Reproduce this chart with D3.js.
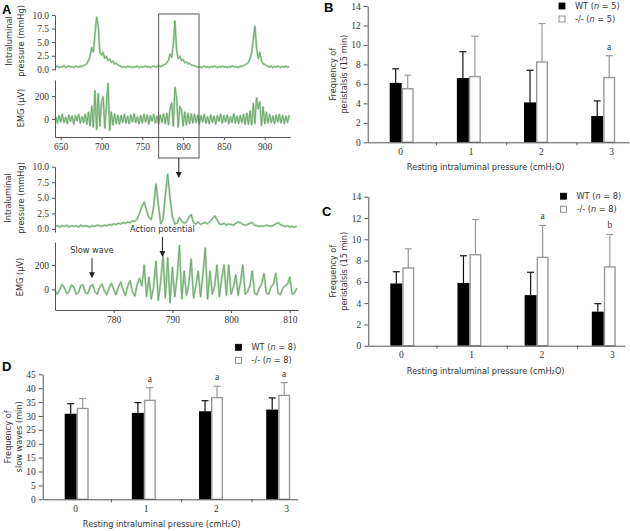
<!DOCTYPE html>
<html lang="en">
<head>
<meta charset="UTF-8">
<title>Peristalsis and slow waves</title>
<script src="https://cdn.jsdelivr.net/npm/d3@7/dist/d3.min.js"></script>
<style>
  body { margin: 0; background: #fff; }
  svg text { fill: #333; }
  .num { font-family: "Liberation Serif", serif; font-size: 9.5px; }
  .lbl { font-family: "DejaVu Sans", sans-serif; font-size: 8.2px; }
  .panel { font-family: "Liberation Sans", Arial, sans-serif; font-weight: bold; font-size: 13px; }
  .panel { fill: #000; }
</style>
</head>
<body>
<svg id="fig" width="630" height="531"></svg>
<script>
// ---- panel A traces (sampled from the figure) ----
const overviewStart = 644, overviewStep = 2;      // seconds
const overviewPressure = [
  0.4,0.6,0.3,0.5,0.4,0.7,0.3,0.5,0.6,0.4,0.5,0.3,0.6,0.5,0.4,0.6,0.5,0.7,
  0.8,1.0,1.6,2.4,4.0,3.2,6.5,9.6,8.0,3.0,2.6,3.1,2.0,2.4,1.6,1.9,1.3,1.5,1.0,1.1,0.8,0.7,0.5,
  0.4,0.5,0.3,0.6,0.4,0.5,0.3,0.5,0.4,0.6,0.3,0.5,0.4,0.5,0.6,0.4,0.5,0.3,0.5,0.6,0.4,0.5,0.7,0.5,0.6,0.8,0.9,
  1.2,1.6,2.8,2.2,4.5,8.9,3.5,2.0,2.4,1.6,1.8,1.2,1.4,1.0,1.1,0.8,0.7,0.6,0.5,
  0.4,0.5,0.3,0.4,0.6,0.4,0.5,0.3,0.5,0.4,0.6,0.5,0.3,0.5,0.4,0.6,0.4,0.5,0.3,0.5,0.4,0.6,0.5,0.4,0.5,0.3,0.6,0.5,0.7,0.8,
  1.0,1.3,2.0,3.0,5.5,7.9,4.0,2.0,3.1,1.6,1.0,0.9,0.7,
  0.5,0.4,0.6,0.3,0.5,0.4,0.6,0.5,0.3,0.5,0.4,0.6,0.4,0.5
];
const overviewEmg = [
  20,-35,30,-25,40,-30,15,-40,35,-20,25,-45,30,-15,40,-35,20,-30,
  40,-45,60,-60,110,-70,245,-90,220,-60,150,195,-80,120,310,-100,60,-50,45,-40,35,-45,30,
  -30,40,-35,25,-40,35,-25,45,-30,20,-40,30,-35,40,-25,35,-45,30,-20,40,-35,25,-40,35,-30,45,-40,
  50,-50,90,140,-60,275,190,-70,110,80,-60,60,-50,50,-40,45,-35,40,-30,
  35,-40,30,-25,40,-35,20,-40,35,-30,25,-45,30,-20,40,-35,30,-25,35,-40,20,-30,45,-35,25,-40,30,-30,40,-45,
  50,-45,70,-50,135,-40,185,90,150,-55,105,-40,60,
  -35,40,-30,25,-40,35,-25,40,-35,30,-40,25,-30,35
];
const zoomStart = 770, zoomStep = 0.4;
const zoomPressure = [
  0.4,0.5,0.3,0.5,0.4,0.6,0.3,0.5,0.4,0.5,0.3,0.6,0.4,0.5,0.4,0.3,0.5,0.4,0.6,0.5,0.4,0.6,0.5,0.7,0.6,0.8,
  0.7,0.9,0.8,1.0,0.9,1.1,1.0,1.3,1.2,1.6,2.5,3.6,4.3,3.0,1.8,1.5,3.5,7.2,4.0,0.8,1.5,5.5,8.8,5.0,2.0,0.8,
  0.9,1.8,1.2,0.9,1.1,1.8,2.3,1.0,0.8,1.1,0.7,0.9,1.0,0.8,1.2,1.6,2.1,1.5,0.8,0.7,0.9,0.6,0.8,0.7,0.6,0.9,
  1.1,1.0,0.7,0.6,0.7,0.9,1.0,0.6,0.5,0.4,0.5,0.4,0.6,0.5,0.4,0.6,0.8,1.0,0.7,0.5,0.4,0.5,0.3,0.4,0.3,0.4
];
const zoomEmg = [
  -10,-40,-5,40,15,-35,-20,35,20,-40,-25,30,35,-30,-35,25,40,-20,-40,15,45,-10,-45,10,50,0,
  -45,20,60,-5,-50,30,70,-20,-55,40,90,30,200,-60,100,-80,20,230,-90,60,280,-70,260,-110,180,-60,
  100,360,-80,150,-50,40,250,-70,30,150,-60,120,340,-80,150,-40,30,200,-60,90,200,-50,200,-40,20,120,
  -50,60,200,-40,-20,30,150,-30,-45,10,40,130,-30,-40,20,40,130,-30,-45,10,30,40,100,-40,-30,10
];
const pressureTicks = [0, 2.5, 5, 7.5, 10];
const emgTicks = [0, 200];
const overviewTicks = [650, 700, 750, 800, 850, 900];
const zoomTicks = [780, 790, 800, 810];
const zoomWindow = [770, 819.5];
const notes = [
  { text: "Slow wave", t: 776.3, v: 100 },
  { text: "Action potential", t: 788.3, v: 275 }
];

// ---- panels B-D ----
const categories = [0, 1, 2, 3];
const peristB_wt = [6.1, 6.6, 4.1, 2.7];
const peristB_wtErr = [1.45, 2.7, 3.3, 1.55];
const peristB_ko = [5.5, 6.75, 8.25, 6.65];
const peristB_koErr = [1.4, 4.15, 3.95, 2.25];
const peristB_sig = ["", "", "", "a"];
const peristC_wt = [5.85, 5.9, 4.75, 3.2];
const peristC_wtErr = [1.1, 2.55, 2.15, 0.75];
const peristC_ko = [7.3, 8.55, 8.3, 7.4];
const peristC_koErr = [1.8, 3.3, 3.0, 3.05];
const peristC_sig = ["", "", "a", "b"];
const slowD_wt = [30.8, 31.1, 31.7, 32.3];
const slowD_wtErr = [3.6, 3.7, 3.8, 4.2];
const slowD_ko = [32.7, 35.6, 36.6, 37.4];
const slowD_koErr = [3.6, 4.6, 4.1, 4.6];
const slowD_sig = ["", "a", "a", "a"];
const peristTicks = [0, 2, 4, 6, 8, 10, 12, 14];
const slowTicks = [0, 5, 10, 15, 20, 25, 30, 35, 40, 45];

const svg = d3.select("#fig");
const axisColor = "#555";

svg.append("defs").append("marker")
  .attr("id", "arrow").attr("viewBox", "0 0 6 6")
  .attr("refX", 5).attr("refY", 3)
  .attr("markerWidth", 6).attr("markerHeight", 6)
  .attr("orient", "auto")
  .append("path").attr("d", "M0,0 L6,3 L0,6 z").attr("fill", "#222");

function styleAxis(g) {
  g.selectAll("path, line").attr("stroke", axisColor);
  g.selectAll("text").attr("class", "num").attr("fill", "#333");
  g.attr("font-family", null).attr("font-size", null);
}

function vLabel(lines, xs, cy) {
  lines.forEach((t, i) => {
    svg.append("text").attr("class", "lbl")
      .attr("text-anchor", "middle")
      .attr("transform", `translate(${xs[i]},${cy}) rotate(-90)`)
      .text(t);
  });
}

// light fuzzy band with a darker core, like the scanned recording
function trace(xs, ys, start, step, data) {
  const line = d3.line()
    .x((d, i) => xs(start + i * step))
    .y(d => ys(d));
  svg.append("path").datum(data)
    .attr("d", line).attr("fill", "none")
    .attr("stroke", "#b5d8b5").attr("stroke-width", 2.2)
    .attr("stroke-linejoin", "round");
  svg.append("path").datum(data)
    .attr("d", line).attr("fill", "none")
    .attr("stroke", "#5f9f5f").attr("stroke-width", 0.8)
    .attr("stroke-linejoin", "round");
}

// ---- A: overview ----
const xTop = d3.scaleLinear().domain([643, 931]).range([55, 290]);
const yPresTop = d3.scaleLinear().domain([-0.13, 10]).range([70, 15]);
const yEmgTop = d3.scaleLinear().domain([-156, 339]).range([137, 80]);

trace(xTop, yPresTop, overviewStart, overviewStep, overviewPressure);
trace(xTop, yEmgTop, overviewStart, overviewStep, overviewEmg);

svg.append("g").attr("transform", "translate(55,0)")
  .call(d3.axisLeft(yPresTop).tickValues(pressureTicks).tickFormat(d3.format(".1f")).tickSize(3).tickSizeOuter(0))
  .call(styleAxis);
svg.append("g").attr("transform", "translate(55,0)")
  .call(d3.axisLeft(yEmgTop).tickValues(emgTicks).tickSize(3).tickSizeOuter(0))
  .call(styleAxis);
svg.append("g").attr("transform", "translate(0,137)")
  .call(d3.axisBottom(xTop).tickValues(overviewTicks).tickSize(3).tickSizeOuter(0))
  .call(styleAxis);

vLabel(["Intraluminal", "pressure (mmHg)"], [12, 24], 41);
vLabel(["EMG (\u03bcV)"], [24], 108);

// zoom window box and arrow
const bx0 = xTop(zoomWindow[0]), bx1 = xTop(zoomWindow[1]);
svg.append("rect").attr("x", bx0).attr("y", 14)
  .attr("width", bx1 - bx0).attr("height", 144)
  .attr("fill", "none").attr("stroke", "#555").attr("stroke-width", 1);
svg.append("line")
  .attr("x1", (bx0 + bx1) / 2).attr("x2", (bx0 + bx1) / 2)
  .attr("y1", 158).attr("y2", 177)
  .attr("stroke", "#222").attr("marker-end", "url(#arrow)");

// ---- A: zoomed ----
const xBot = d3.scaleLinear().domain([770, 811.4]).range([55, 298]);
const yPresBot = d3.scaleLinear().domain([-0.5, 10]).range([232, 166.7]);
const yEmgBot = d3.scaleLinear().domain([-170, 389]).range([310, 242]);

trace(xBot, yPresBot, zoomStart, zoomStep, zoomPressure);
trace(xBot, yEmgBot, zoomStart, zoomStep, zoomEmg);

svg.append("g").attr("transform", "translate(55,0)")
  .call(d3.axisLeft(yPresBot).tickValues(pressureTicks).tickFormat(d3.format(".1f")).tickSize(3).tickSizeOuter(0))
  .call(styleAxis);
svg.append("g").attr("transform", "translate(55,0)")
  .call(d3.axisLeft(yEmgBot).tickValues(emgTicks).tickSize(3).tickSizeOuter(0))
  .call(styleAxis);
svg.append("g").attr("transform", "translate(0,310)")
  .call(d3.axisBottom(xBot).tickValues(zoomTicks).tickSize(3).tickSizeOuter(0))
  .call(styleAxis);

vLabel(["Intraluminal", "pressure (mmHg)"], [11, 24], 198);
vLabel(["EMG (\u03bcV)"], [23], 277);

notes.forEach(n => {
  const x = xBot(n.t), y = yEmgBot(n.v);
  svg.append("text").attr("class", "lbl").attr("text-anchor", "middle")
    .attr("x", x).attr("y", y - 24).text(n.text);
  svg.append("line").attr("x1", x).attr("x2", x)
    .attr("y1", y - 19).attr("y2", y)
    .attr("stroke", "#222").attr("marker-end", "url(#arrow)");
});

svg.append("text").attr("class", "panel").attr("x", 2).attr("y", 14).text("A");

// ---- bar panels ----
function barPanel(cfg) {
  const y = d3.scaleLinear().domain([0, cfg.yMax]).range([cfg.yBase, cfg.yTop]);
  const xl = d3.scaleLinear().domain([0, 3]).range([cfg.x0 + 33, cfg.x0 + 244]);
  const xb = d3.scaleLinear().domain([0, 3]).range([cfg.x0 + 34, cfg.x0 + 235.5]);
  const xAxisScale = xl.copy().domain([xl.invert(cfg.x0), xl.invert(cfg.xEnd)]).range([cfg.x0, cfg.xEnd]);
  const bw = 12;
  const g = svg.append("g");

  // bars
  g.selectAll(".wt").data(categories).join("rect")
    .attr("x", c => xb(c) - bw).attr("width", bw)
    .attr("y", c => y(cfg.wt[c])).attr("height", c => y(0) - y(cfg.wt[c]))
    .attr("fill", "#000");
  g.selectAll(".ko").data(categories).join("rect")
    .attr("x", c => xb(c) + 0.7).attr("width", bw - 1.4)
    .attr("y", c => y(cfg.ko[c])).attr("height", c => y(0) - y(cfg.ko[c]))
    .attr("fill", "#fff").attr("stroke", "#999").attr("stroke-width", 1.4);

  // error bars (upper only)
  const err = [
    { vals: cfg.wt, errs: cfg.wtErr, dx: -bw / 2, col: "#111" },
    { vals: cfg.ko, errs: cfg.koErr, dx: bw / 2, col: "#999" }
  ];
  err.forEach(s => {
    categories.forEach(c => {
      const cx = xb(c) + s.dx, top = y(s.vals[c] + s.errs[c]);
      g.append("line").attr("x1", cx).attr("x2", cx)
        .attr("y1", y(s.vals[c])).attr("y2", top)
        .attr("stroke", s.col).attr("stroke-width", 1.2);
      g.append("line").attr("x1", cx - 3.5).attr("x2", cx + 3.5)
        .attr("y1", top).attr("y2", top)
        .attr("stroke", s.col).attr("stroke-width", 1.2);
    });
  });

  // significance letters
  g.selectAll(".sig").data(categories.filter(c => cfg.sig[c])).join("text")
    .attr("class", "num").attr("text-anchor", "middle")
    .attr("x", c => xb(c) + bw / 2)
    .attr("y", c => y(cfg.ko[c] + cfg.koErr[c]) - 6)
    .text(c => cfg.sig[c]);

  // axes
  g.append("g").attr("transform", `translate(${cfg.x0},0)`)
    .call(d3.axisLeft(y).tickValues(cfg.ticks).tickSize(4).tickSizeOuter(0).tickPadding(3))
    .call(styleAxis);
  g.append("g").attr("transform", `translate(0,${cfg.yBase})`)
    .call(d3.axisBottom(xAxisScale).tickValues([0.5, 1.5, 2.5]).tickFormat("").tickSize(3).tickSizeOuter(0))
    .call(styleAxis);
  g.selectAll(".cat").data(categories).join("text")
    .attr("class", "num").attr("text-anchor", "middle")
    .attr("x", c => xl(c)).attr("y", cfg.yBase + 12.5)
    .text(c => c);

  g.append("text").attr("class", "lbl").attr("text-anchor", "middle")
    .attr("x", cfg.titleX).attr("y", cfg.yBase + 28)
    .text("Resting intraluminal pressure (cmH\u2082O)");

  vLabel(cfg.yLabel, [cfg.x0 - 32, cfg.x0 - 21], (cfg.yBase + cfg.yTop) / 2);

  // legend
  const lg = [
    { label: "WT", fill: "#000", stroke: "#000" },
    { label: "-/-", fill: "#fff", stroke: "#777" }
  ];
  lg.forEach((d, i) => {
    const ly = cfg.legY + i * 13;
    g.append("rect").attr("x", cfg.legX).attr("y", ly - 3).attr("width", 6).attr("height", 6)
      .attr("fill", d.fill).attr("stroke", d.stroke).attr("stroke-width", 0.8);
    const t = g.append("text").attr("class", "lbl").attr("x", cfg.legX + 16).attr("y", ly + 3);
    t.append("tspan").text(d.label + " (");
    t.append("tspan").attr("font-style", "italic").text("n");
    t.append("tspan").text(" = " + cfg.n + ")");
  });

  svg.append("text").attr("class", "panel").attr("x", cfg.tagX).attr("y", cfg.tagY).text(cfg.tag);
}

barPanel({
  tag: "B", tagX: 324, tagY: 12,
  x0: 367.7, xEnd: 629, yBase: 142.3, yTop: 6, yMax: 14, ticks: peristTicks,
  wt: peristB_wt, wtErr: peristB_wtErr, ko: peristB_ko, koErr: peristB_koErr, sig: peristB_sig,
  yLabel: ["Frequency of", "peristalsis (15 min)"], titleX: 485.7,
  legX: 559, legY: 6, n: 5
});
barPanel({
  tag: "C", tagX: 322, tagY: 216,
  x0: 368.3, xEnd: 625, yBase: 345.7, yTop: 196.7, yMax: 14, ticks: peristTicks,
  wt: peristC_wt, wtErr: peristC_wtErr, ko: peristC_ko, koErr: peristC_koErr, sig: peristC_sig,
  yLabel: ["Frequency of", "peristalsis (15 min)"], titleX: 485.7,
  legX: 560.5, legY: 196.2, n: 8
});
barPanel({
  tag: "D", tagX: 2, tagY: 371,
  x0: 42.7, xEnd: 297.7, yBase: 499.3, yTop: 374.3, yMax: 45, ticks: slowTicks,
  wt: slowD_wt, wtErr: slowD_wtErr, ko: slowD_ko, koErr: slowD_koErr, sig: slowD_sig,
  yLabel: ["Frequency of", "slow waves (min)"], titleX: 161.7,
  legX: 235.5, legY: 347.3, n: 8
});
</script>
</body>
</html>
